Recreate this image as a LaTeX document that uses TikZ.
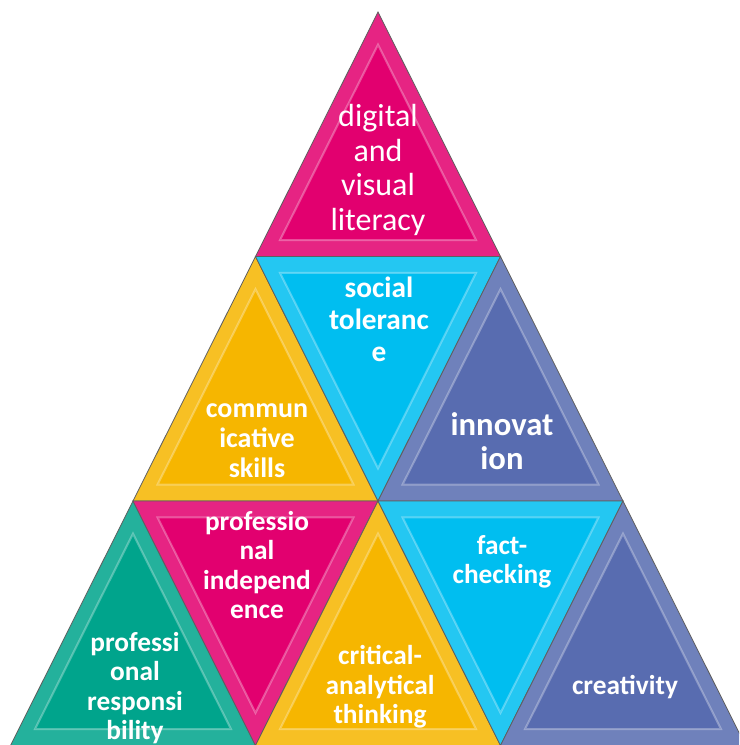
\documentclass[tikz,border=0pt]{standalone}
\usepackage{fontspec}
\setmainfont{Carlito}

\definecolor{pyrMagenta}{RGB}{226,0,111}
\definecolor{pyrCyan}{RGB}{0,190,240}
\definecolor{pyrYellow}{RGB}{246,182,0}
\definecolor{pyrBlue}{RGB}{88,108,176}
\definecolor{pyrTeal}{RGB}{0,164,140}

\tikzset{every picture/.style={line width=0.75pt}}
\tikzset{
  tri/.style={draw={rgb, 255:red, 95; green, 95; blue, 95 }, line width=0.6pt, fill=#1!86!white},
  bevel/.style={fill=#1, draw=white, draw opacity=0.3, line width=1.5pt},
  lbl/.style={text=white, align=center, inner sep=0.75pt, font=\bfseries\fontsize{20.5}{22}\selectfont},
}

\begin{document}
\begin{tikzpicture}[x=0.75pt,y=0.75pt,yscale=-1,xscale=1]
\useasboundingbox (0,0) rectangle (739,745);
\clip (0,0) rectangle (739,745);

%Shape: Triangle top (magenta)
\draw  [tri=pyrMagenta] (378,12) -- (255.5,256.5) -- (500.5,256.5) -- cycle ;
\draw  [bevel=pyrMagenta] (378,44.6) -- (280,240.2) -- (476,240.2) -- cycle ;

%Shape: Triangle middle left (yellow)
\draw  [tri=pyrYellow] (255.5,256.5) -- (133,501) -- (378,501) -- cycle ;
\draw  [bevel=pyrYellow] (255.5,289.1) -- (157.5,484.7) -- (353.5,484.7) -- cycle ;
%Shape: Triangle middle down (cyan)
\draw  [tri=pyrCyan] (255.5,256.5) -- (500.5,256.5) -- (378,501) -- cycle ;
\draw  [bevel=pyrCyan] (280,272.8) -- (476,272.8) -- (378,468.4) -- cycle ;
%Shape: Triangle middle right (blue)
\draw  [tri=pyrBlue] (500.5,256.5) -- (378,501) -- (623,501) -- cycle ;
\draw  [bevel=pyrBlue] (500.5,289.1) -- (402.5,484.7) -- (598.5,484.7) -- cycle ;

%Shape: Triangle bottom 1 (teal)
\draw  [tri=pyrTeal] (133,501) -- (10.5,745.5) -- (255.5,745.5) -- cycle ;
\draw  [bevel=pyrTeal] (133,533.6) -- (35,729.2) -- (231,729.2) -- cycle ;
%Shape: Triangle bottom 2 (magenta, down)
\draw  [tri=pyrMagenta] (133,501) -- (378,501) -- (255.5,745.5) -- cycle ;
\draw  [bevel=pyrMagenta] (157.5,517.3) -- (353.5,517.3) -- (255.5,712.9) -- cycle ;
%Shape: Triangle bottom 3 (yellow)
\draw  [tri=pyrYellow] (378,501) -- (255.5,745.5) -- (500.5,745.5) -- cycle ;
\draw  [bevel=pyrYellow] (378,533.6) -- (280,729.2) -- (476,729.2) -- cycle ;
%Shape: Triangle bottom 4 (cyan, down)
\draw  [tri=pyrCyan] (378,501) -- (623,501) -- (500.5,745.5) -- cycle ;
\draw  [bevel=pyrCyan] (402.5,517.3) -- (598.5,517.3) -- (500.5,712.9) -- cycle ;
%Shape: Triangle bottom 5 (blue)
\draw  [tri=pyrBlue] (623,501) -- (500.5,745.5) -- (745.5,745.5) -- cycle ;
\draw  [bevel=pyrBlue] (623,533.6) -- (525,729.2) -- (721,729.2) -- cycle ;


% Text Node
\node [lbl, font=\mdseries\fontsize{24}{26}\selectfont] (digital) at (378,170) {digital\\and\\visual\\literacy};
% Text Node
\node [lbl, font=\bfseries\fontsize{22}{24}\selectfont] (social) at (379,319) {social\\toleranc\\e};
% Text Node
\node [lbl, font=\bfseries\fontsize{21}{22.5}\selectfont] (commun) at (257,441) {commun\\icative\\skills};
% Text Node
\node [lbl, font=\bfseries\fontsize{24.5}{26}\selectfont] (innov) at (502,441) {innovat\\ion};
% Text Node
\node [lbl] (profind) at (257,565) {professio\\nal\\independ\\ence};
% Text Node
\node [lbl] (profresp) at (135,688) {professi\\onal\\responsi\\bility};
% Text Node
\node [lbl] (critical) at (380,687) {critical-\\analytical\\thinking};
% Text Node
\node [lbl] (factchk) at (502,562) {fact-\\checking};
% Text Node
\node [lbl] (creat) at (625,687) {creativity};

\end{tikzpicture}
\end{document}
